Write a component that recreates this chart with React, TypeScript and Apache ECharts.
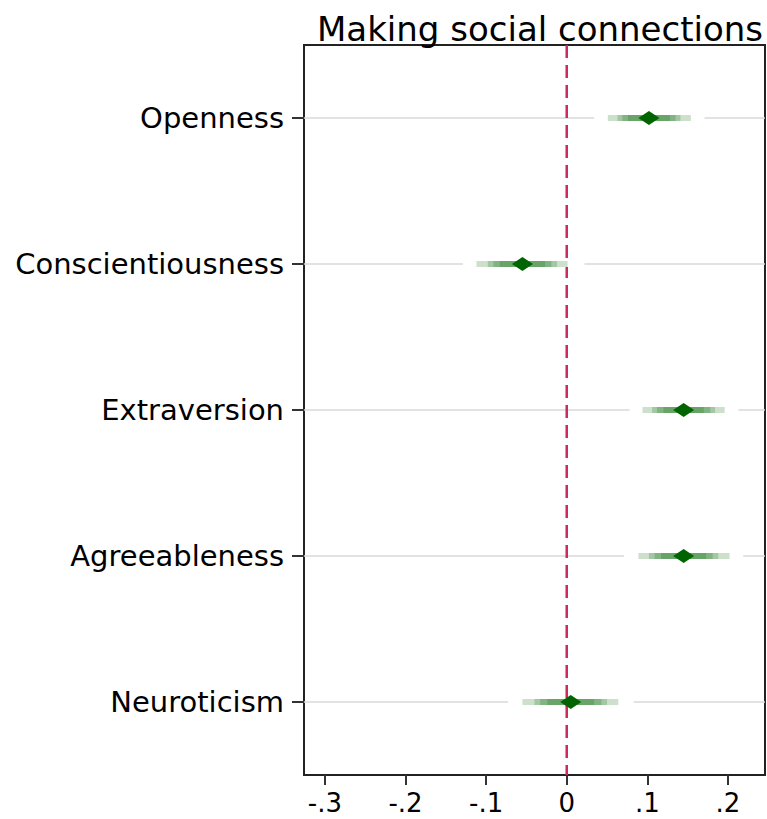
import React, { useEffect, useRef } from "react";
import * as echarts from "echarts";

const categories = ["Openness", "Conscientiousness", "Extraversion", "Agreeableness", "Neuroticism"];
const estimates = [0.102, -0.055, 0.145, 0.145, 0.005];

// confidence bands (outer white gap, then increasingly dark layers)
const ci999Low = [0.034, -0.129, 0.078, 0.071, -0.073];
const ci999High = [0.171, 0.022, 0.213, 0.219, 0.083];
const ci99Low = [0.051, -0.112, 0.094, 0.089, -0.055];
const ci99High = [0.154, 0.001, 0.196, 0.202, 0.064];
const ci95Low = [0.063, -0.098, 0.106, 0.102, -0.040];
const ci95High = [0.141, -0.012, 0.184, 0.188, 0.050];
const ci90Low = [0.069, -0.091, 0.112, 0.109, -0.033];
const ci90High = [0.135, -0.019, 0.178, 0.181, 0.043];
const ci80Low = [0.076, -0.083, 0.120, 0.117, -0.024];
const ci80High = [0.128, -0.027, 0.170, 0.173, 0.034];

const xTicks = [-0.3, -0.2, -0.1, 0, 0.1, 0.2];
const xMin = -0.326;
const xMax = 0.246;
const refValue = 0;
const title = "Making social connections";

const FONT = "DejaVu Sans";

function bandSeries(lows: number[], highs: number[], fill: string, h: number, z: number) {
  return {
    type: "custom",
    z,
    clip: false,
    data: lows.map((lo, i) => [lo, highs[i], i]),
    encode: { x: [0, 1], y: 2 },
    renderItem: (params: any, api: any) => {
      const s = api.coord([api.value(0), api.value(2)]);
      const e = api.coord([api.value(1), api.value(2)]);
      return {
        type: "rect",
        shape: { x: s[0], y: s[1] - h / 2, width: e[0] - s[0], height: h },
        style: { fill },
      };
    },
  };
}

export default function App() {
  const ref = useRef<HTMLDivElement>(null);
  useEffect(() => {
    if (!ref.current) return;
    const chart = echarts.init(ref.current, null, { renderer: "svg" });
    const green = "rgba(0,100,0,0.2)";
    chart.setOption({
      animation: false,
      backgroundColor: "#ffffff",
      title: {
        text: title,
        left: 535,
        top: 7,
        textAlign: "center",
        textStyle: { fontFamily: FONT, fontSize: 34, fontWeight: "normal", color: "#000" },
      },
      grid: {
        left: 304,
        right: 2,
        top: 45,
        bottom: 44,
        show: true,
        borderColor: "#222",
        borderWidth: 2,
        backgroundColor: "#fff",
      },
      xAxis: {
        type: "value",
        min: xMin,
        max: xMax,
        splitLine: { show: false },
        axisLine: { show: true, onZero: false, lineStyle: { color: "#222", width: 2 } },
        axisTick: { show: true, length: 10, customValues: xTicks, lineStyle: { color: "#333", width: 2 } },
        axisLabel: {
          customValues: xTicks,
          margin: 15,
          fontFamily: FONT,
          fontSize: 26,
          color: "#000",
          formatter: (v: number) => {
            if (Math.abs(v) < 1e-9) return "0";
            const s = Math.abs(v).toFixed(1).replace(/^0/, "");
            return (v < 0 ? "-" : "") + s;
          },
        },
      },
      yAxis: {
        type: "category",
        data: categories,
        inverse: true,
        axisLine: { show: true, onZero: false, lineStyle: { color: "#222", width: 2 } },
        axisTick: { show: true, alignWithLabel: true, length: 12, lineStyle: { color: "#333", width: 2 } },
        axisLabel: { margin: 20, fontFamily: FONT, fontSize: 29, color: "#000" },
        splitLine: { show: false },
      },
      series: [
        {
          type: "custom",
          z: 1,
          data: categories.map((c, i) => [0, i]),
          encode: { x: 0, y: 1 },
          renderItem: (params: any, api: any) => {
            const y = api.coord([0, api.value(1)])[1];
            const cs = params.coordSys;
            return {
              type: "line",
              shape: { x1: cs.x, y1: y, x2: cs.x + cs.width, y2: y },
              style: { stroke: "#d9d9d9", lineWidth: 1.5 },
            };
          },
        },
        {
          type: "custom",
          z: 2,
          data: [[refValue, 0]],
          encode: { x: 0, y: 1 },
          renderItem: (params: any, api: any) => {
            const x = api.coord([api.value(0), 0])[0];
            const cs = params.coordSys;
            return {
              type: "line",
              shape: { x1: x, y1: cs.y, x2: x, y2: cs.y + cs.height },
              style: { stroke: "#cc2a5a", lineWidth: 2.5, lineDash: [13, 7] },
            };
          },
        },
        bandSeries(ci999Low, ci999High, "#ffffff", 6, 3),
        bandSeries(ci99Low, ci99High, green, 6, 4),
        bandSeries(ci95Low, ci95High, green, 6, 5),
        bandSeries(ci90Low, ci90High, green, 6, 6),
        bandSeries(ci80Low, ci80High, green, 6, 7),
        {
          type: "scatter",
          z: 10,
          symbol: "diamond",
          symbolSize: [21, 14],
          itemStyle: { color: "#006400", opacity: 1 },
          data: estimates.map((v, i) => [v, i]),
        },
      ],
    });
    return () => chart.dispose();
  }, []);
  return <div ref={ref} style={{ width: 767, height: 819, position: "absolute", left: 0, top: 0 }} />;
}
